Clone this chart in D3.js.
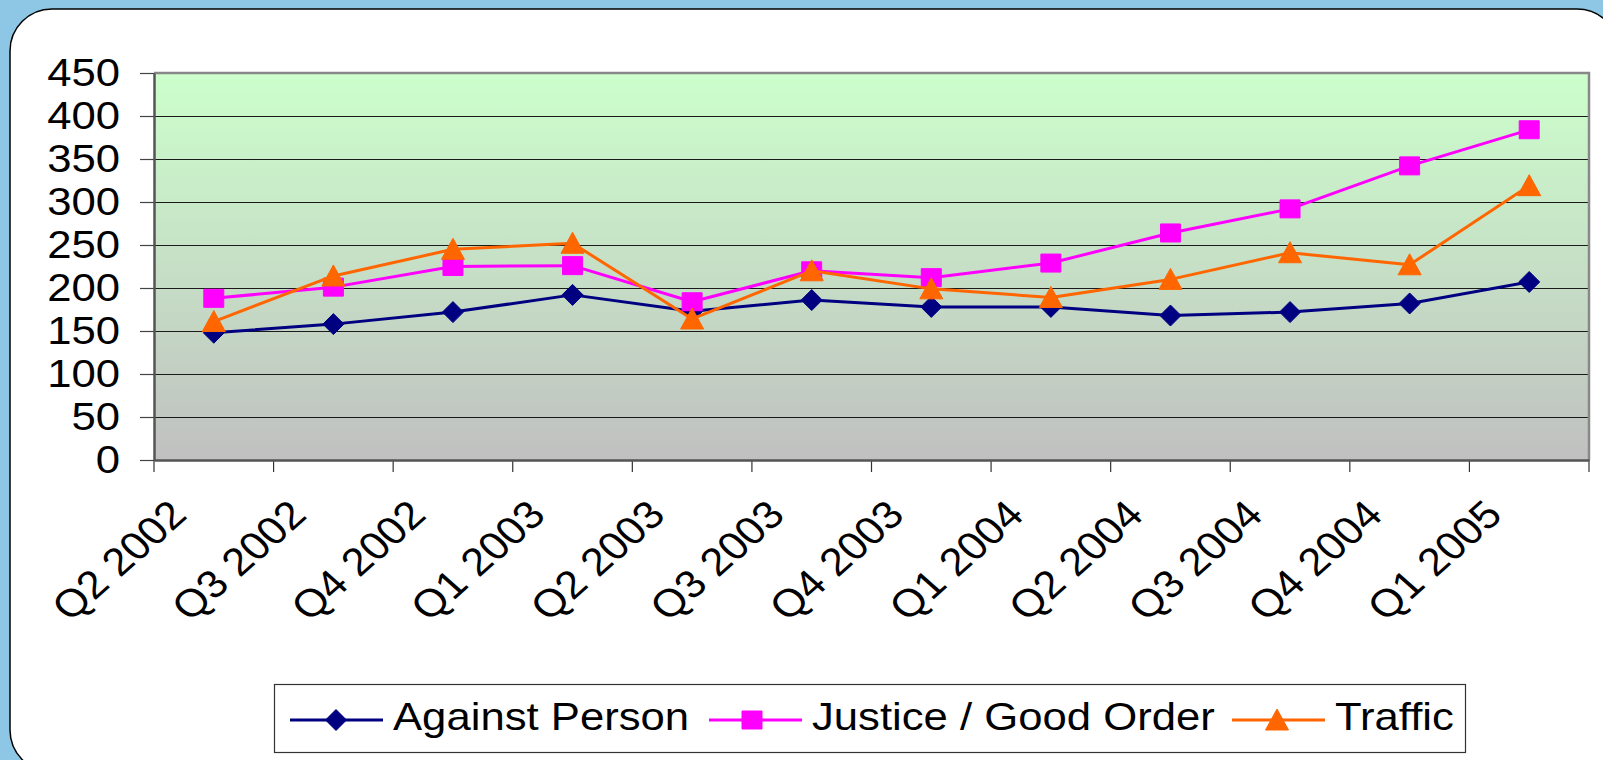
<!DOCTYPE html>
<html>
<head>
<meta charset="utf-8">
<script src="https://cdn.jsdelivr.net/npm/d3@7/dist/d3.min.js"></script>
<style>
  html, body { margin: 0; padding: 0; background: #8EC7E6; }
  svg { display: block; }
  text { font-family: "Liberation Sans", Arial, sans-serif; fill: #000; }
</style>
</head>
<body>
<svg id="chart" width="1603" height="760"></svg>
<script>
const categories = ["Q2 2002","Q3 2002","Q4 2002","Q1 2003","Q2 2003","Q3 2003","Q4 2003","Q1 2004","Q2 2004","Q3 2004","Q4 2004","Q1 2005"];
const againstPerson = [148,158,172,192,173,186,178,178,168,172,182,207];
const justiceGoodOrder = [188,201,225,226,184,220,212,229,264,292,342,384];
const traffic = [161,214,245,252,164,220,199,189,210,241,227,319];
const yTicks = [0,50,100,150,200,250,300,350,400,450];
const seriesNames = ["Against Person","Justice / Good Order","Traffic"];

const series = [
  {name: seriesNames[0], values: againstPerson, color: "#000080", marker: "diamond"},
  {name: seriesNames[1], values: justiceGoodOrder, color: "#FF00FF", marker: "square"},
  {name: seriesNames[2], values: traffic, color: "#FF6600", marker: "triangle"}
];

const W = 1603, H = 760;
const plot = {left: 154, right: 1589, top: 73, bottom: 460};
const FS = 39, SX = 1.12;

const svg = d3.select("#chart");

// Card
svg.append("rect").attr("x", 10).attr("y", 9).attr("width", 1609).attr("height", 763)
  .attr("rx", 42).attr("ry", 42).attr("fill", "#fff").attr("stroke", "#000").attr("stroke-width", 1.5);

// Gradient
const defs = svg.append("defs");
const grad = defs.append("linearGradient").attr("id", "bg").attr("x1", 0).attr("y1", 0).attr("x2", 0).attr("y2", 1);
grad.append("stop").attr("offset", "0%").attr("stop-color", "#CCFFCC");
grad.append("stop").attr("offset", "100%").attr("stop-color", "#C0C0C0");

const x = d3.scaleBand().domain(categories).range([plot.left, plot.right]).padding(0);
const y = d3.scaleLinear().domain([0, 450]).range([plot.bottom, plot.top]);
const cx = c => x(c) + x.bandwidth() / 2;

// Plot background
svg.append("rect").attr("x", plot.left).attr("y", plot.top)
  .attr("width", plot.right - plot.left).attr("height", plot.bottom - plot.top)
  .attr("fill", "url(#bg)");

// Gridlines
svg.append("g").selectAll("line").data(yTicks.filter(v => v > 0 && v < 450)).join("line")
  .attr("x1", plot.left).attr("x2", plot.right)
  .attr("y1", d => Math.round(y(d)) + 0.5).attr("y2", d => Math.round(y(d)) + 0.5)
  .attr("stroke", "#1a1a1a").attr("stroke-width", 1);

// Plot border (top, right)
svg.append("path")
  .attr("d", `M${plot.left},${plot.top} H${plot.right} V${plot.bottom}`)
  .attr("fill", "none").attr("stroke", "#888").attr("stroke-width", 2.5);

// Y axis
const yAxis = svg.append("g").attr("transform", `translate(${plot.left},0)`)
  .call(d3.axisLeft(y).tickValues(yTicks).tickSize(14).tickSizeOuter(0).tickFormat(d3.format("d")));
yAxis.select(".domain").attr("stroke", "#555").attr("stroke-width", 2.5);
yAxis.selectAll(".tick line").attr("stroke", "#444").attr("stroke-width", 1.2);
yAxis.selectAll(".tick text")
  .attr("x", null).attr("dy", null)
  .attr("transform", `translate(-34,12) scale(${SX},1)`)
  .attr("text-anchor", "end")
  .style("font-size", FS + "px").style("font-family", "'Liberation Sans', Arial, sans-serif").attr("fill", "#000");

// X axis: boundary ticks
const boundaries = categories.map(c => x(c)).concat([plot.right]);
svg.append("g").selectAll("line").data(boundaries).join("line")
  .attr("x1", d => d).attr("x2", d => d)
  .attr("y1", plot.bottom).attr("y2", plot.bottom + 12)
  .attr("stroke", "#333").attr("stroke-width", 1.2);

const xAxis = svg.append("g").attr("transform", `translate(0,${plot.bottom})`)
  .call(d3.axisBottom(x).tickSize(0).tickSizeOuter(0));
xAxis.select(".domain").attr("stroke", "#555").attr("stroke-width", 2.5);
xAxis.selectAll(".tick text")
  .attr("y", null).attr("dy", null)
  .attr("transform", `translate(-25,57) scale(${SX},1) rotate(-45)`)
  .attr("text-anchor", "end")
  .style("font-size", FS + "px").style("font-family", "'Liberation Sans', Arial, sans-serif").attr("fill", "#000");

// Marker shapes
function markerPath(type) {
  if (type === "diamond") return "M0,-10.5 L10.5,0 L0,10.5 L-10.5,0 Z";
  if (type === "square") return "M-10,-9 H10 V9 H-10 Z";
  return "M0,-11 L11.5,10 L-11.5,10 Z";
}

const line = d3.line().x((d, i) => cx(categories[i])).y(d => y(d));

series.forEach(s => {
  const g = svg.append("g");
  g.append("path").datum(s.values).attr("d", line)
    .attr("fill", "none").attr("stroke", s.color).attr("stroke-width", 3).attr("stroke-linejoin", "round");
  g.selectAll("path.m").data(s.values).join("path").attr("class", "m")
    .attr("d", markerPath(s.marker))
    .attr("transform", (d, i) => `translate(${cx(categories[i])},${y(d)})`)
    .attr("fill", s.color).attr("stroke", s.color).attr("stroke-width", 1).attr("stroke-linejoin", "round");
});

// Legend
const legend = svg.append("g");
legend.append("rect").attr("x", 274.5).attr("y", 684.5).attr("width", 1191).attr("height", 68)
  .attr("fill", "#fff").attr("stroke", "#333").attr("stroke-width", 1.2);
const legendItems = [
  {lx1: 290, lx2: 383, mx: 336, tx: 393},
  {lx1: 709, lx2: 802, mx: 752, tx: 812},
  {lx1: 1232, lx2: 1325, mx: 1277, tx: 1335}
];
series.forEach((s, i) => {
  const it = legendItems[i];
  legend.append("line").attr("x1", it.lx1).attr("x2", it.lx2).attr("y1", 720).attr("y2", 720)
    .attr("stroke", s.color).attr("stroke-width", 3);
  legend.append("path").attr("d", markerPath(s.marker))
    .attr("transform", `translate(${it.mx},720)`)
    .attr("fill", s.color).attr("stroke", s.color).attr("stroke-width", 1);
  legend.append("text").text(s.name)
    .attr("transform", `translate(${it.tx},730) scale(${SX},1)`)
    .style("font-size", FS + "px");
});
</script>
</body>
</html>
